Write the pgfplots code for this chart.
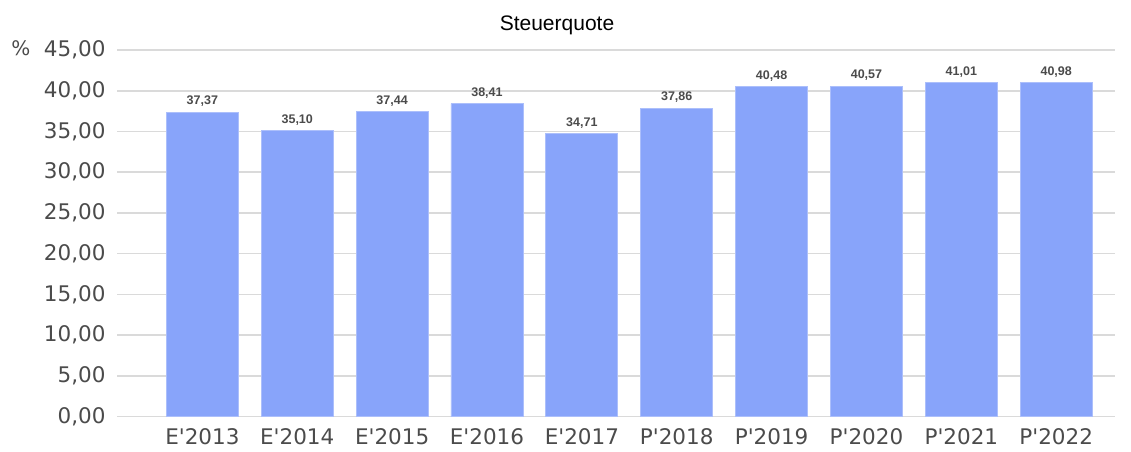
\documentclass[border=0pt]{standalone}
\usepackage{fontspec}
\setmainfont{DejaVu Sans}
\newfontfamily\labfont{Liberation Sans}
\usepackage{pgfplots}
\pgfplotsset{compat=1.18}
\definecolor{barblue}{RGB}{136,164,250}
\definecolor{gridgray}{RGB}{218,218,218}
\definecolor{ticktext}{RGB}{75,75,75}
\begin{document}
\begin{tikzpicture}
\useasboundingbox (0,0) rectangle (1131pt,451pt);
\begin{axis}[
  at={(117pt,34.5pt)}, anchor=south west,
  scale only axis, width=998pt, height=366.5pt,
  xmin=-0.9, xmax=9.62, ymin=0, ymax=45,
  ytick={0,5,...,45},
  xtick=data,
  xticklabels={E\textquotesingle2013,E\textquotesingle2014,E\textquotesingle2015,E\textquotesingle2016,E\textquotesingle2017,P\textquotesingle2018,P\textquotesingle2019,P\textquotesingle2020,P\textquotesingle2021,P\textquotesingle2022},
  axis line style={draw=none},
  major tick length=0pt,
  ymajorgrids, grid style={gridgray, line width=1.6pt},
  /pgf/number format/assume math mode=true,
  yticklabel style={/pgf/number format/fixed, /pgf/number format/fixed zerofill, /pgf/number format/precision=2, /pgf/number format/use comma, xshift=-8pt},
  ticklabel style={font=\fontsize{21.5}{24}\selectfont, text=ticktext},
  xticklabel style={yshift=-9pt},
  ybar, bar width=72pt,
  nodes near coords,
  nodes near coords style={/pgf/number format/fixed, /pgf/number format/fixed zerofill, /pgf/number format/precision=2, /pgf/number format/use comma},
  every node near coord/.append style={font=\labfont\bfseries\fontsize{12.5}{14}\selectfont, text=ticktext, yshift=1.5pt},
]
\addplot[fill=barblue, draw=barblue!70!white, line width=0.8pt] coordinates {
(0,37.37) (1,35.10) (2,37.44) (3,38.41) (4,34.71) (5,37.86) (6,40.48) (7,40.57) (8,41.01) (9,40.98)};
\end{axis}
\node[font=\labfont\fontsize{21}{24}\selectfont, text=black] at (557pt,426pt) {Steuerquote};
\node[font=\fontsize{20}{22}\selectfont, text=ticktext] at (21pt,403pt) {\%};
\end{tikzpicture}
\end{document}
